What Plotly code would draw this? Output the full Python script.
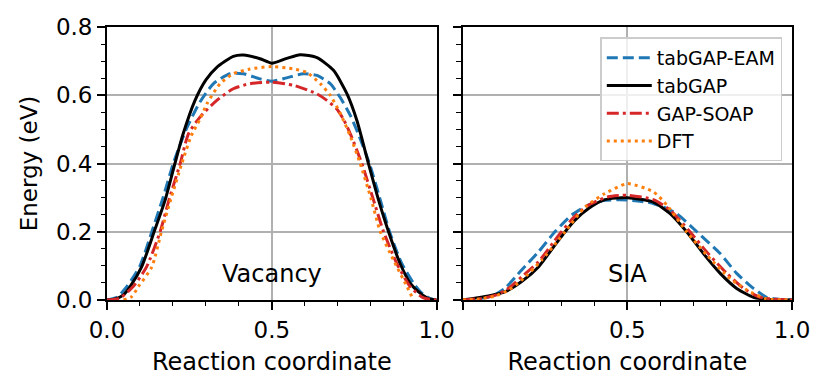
##############################################################
# NEB energy profiles: vacancy and SIA migration, 4 models  #
##############################################################

import plotly.graph_objects as go
from plotly.subplots import make_subplots

# model names and styles (legend order)
models = ['tabGAP-EAM', 'tabGAP', 'GAP-SOAP', 'DFT']
colors = ['#1f77b4', 'black', '#d62728', '#ff7f0e']
dashes = ['11px,5px', 'solid', '12px,4px,3px,4px', '3px,4px']

# vacancy migration (reaction coordinate, energy in eV)
vac_eam_x = [0, 0.03, 0.06, 0.10, 0.136, 0.17, 0.201, 0.24, 0.282, 0.323, 0.373, 0.414,
             0.464, 0.5, 0.545, 0.596, 0.637, 0.677, 0.707, 0.738, 0.765, 0.796, 0.827,
             0.857, 0.894, 0.93, 0.955, 0.98, 1.0]
vac_eam_y = [0, 0.008, 0.039, 0.10, 0.2, 0.3, 0.4, 0.5, 0.58, 0.634, 0.663, 0.663,
             0.648, 0.641, 0.651, 0.663, 0.658, 0.634, 0.594, 0.541, 0.48, 0.4, 0.3,
             0.2, 0.107, 0.049, 0.02, 0.004, 0]

vac_tab_x = [0, 0.025, 0.05, 0.07, 0.105, 0.143, 0.176, 0.206, 0.231, 0.267, 0.30, 0.333,
             0.383, 0.414, 0.464, 0.5, 0.545, 0.586, 0.637, 0.687, 0.728, 0.758, 0.793,
             0.824, 0.854, 0.889, 0.92, 0.95, 0.975, 1.0]
vac_tab_y = [0, 0.003, 0.015, 0.039, 0.097, 0.2, 0.292, 0.4, 0.487, 0.585, 0.645, 0.682,
             0.714, 0.718, 0.707, 0.694, 0.708, 0.719, 0.710, 0.673, 0.604, 0.526, 0.4,
             0.292, 0.2, 0.107, 0.049, 0.02, 0.004, 0]

vac_soap_x = [0, 0.04, 0.08, 0.12, 0.161, 0.19, 0.222, 0.247, 0.282, 0.333, 0.383, 0.434,
              0.5, 0.566, 0.637, 0.667, 0.697, 0.717, 0.738, 0.773, 0.806, 0.839, 0.879,
              0.92, 0.96, 1.0]
vac_soap_y = [0, 0.006, 0.04, 0.097, 0.2, 0.3, 0.4, 0.487, 0.536, 0.585, 0.619, 0.634,
              0.638, 0.629, 0.604, 0.585, 0.56, 0.53, 0.487, 0.4, 0.3, 0.2, 0.107,
              0.039, 0.006, 0]

vac_dft_x = [0.05, 0.075, 0.095, 0.136, 0.165, 0.195, 0.227, 0.255, 0.282, 0.303, 0.343,
             0.383, 0.434, 0.5, 0.566, 0.606, 0.647, 0.677, 0.707, 0.738, 0.768, 0.80,
             0.829, 0.869, 0.91, 0.93]
vac_dft_y = [0, 0.01, 0.039, 0.097, 0.2, 0.3, 0.4, 0.48, 0.53, 0.575, 0.634, 0.663,
             0.677, 0.684, 0.677, 0.667, 0.634, 0.6, 0.548, 0.48, 0.4, 0.3, 0.2,
             0.117, 0.039, 0]

# self-interstitial atom migration
sia_eam_x = [0, 0.05, 0.09, 0.128, 0.179, 0.23, 0.28, 0.331, 0.382, 0.432, 0.5, 0.57,
             0.61, 0.65, 0.711, 0.782, 0.832, 0.883, 0.923, 0.96, 1.0]
sia_eam_y = [0, 0.004, 0.012, 0.034, 0.088, 0.141, 0.2, 0.249, 0.278, 0.292, 0.293, 0.285,
             0.272, 0.253, 0.2, 0.136, 0.078, 0.034, 0.008, 0.002, 0]

sia_tab_x = [0, 0.078, 0.128, 0.179, 0.23, 0.28, 0.311, 0.341, 0.382, 0.432, 0.5, 0.579,
             0.63, 0.68, 0.731, 0.782, 0.832, 0.883, 0.94, 1.0]
sia_tab_y = [0, 0.012, 0.024, 0.054, 0.097, 0.161, 0.2, 0.234, 0.268, 0.294, 0.300, 0.287,
             0.253, 0.2, 0.136, 0.078, 0.034, 0.008, 0.001, 0]

sia_soap_x = [0, 0.06, 0.10, 0.14, 0.179, 0.23, 0.28, 0.30, 0.34, 0.382, 0.44, 0.5, 0.579,
              0.63, 0.69, 0.741, 0.802, 0.853, 0.903, 0.95, 1.0]
sia_soap_y = [0, 0.005, 0.014, 0.035, 0.068, 0.112, 0.175, 0.2, 0.245, 0.278, 0.302, 0.307,
              0.294, 0.263, 0.2, 0.141, 0.078, 0.034, 0.008, 0.002, 0]

sia_dft_x = [0, 0.05, 0.10, 0.14, 0.179, 0.24, 0.29, 0.311, 0.372, 0.432, 0.5, 0.579, 0.62,
             0.68, 0.741, 0.812, 0.863, 0.923, 0.96, 1.0]
sia_dft_y = [0, 0.003, 0.012, 0.03, 0.058, 0.117, 0.175, 0.2, 0.273, 0.312, 0.341, 0.317,
             0.278, 0.2, 0.132, 0.063, 0.029, 0.003, 0.001, 0]

x_ticks = [0, 0.5, 1.0]
y_ticks = [0, 0.2, 0.4, 0.6, 0.8]

vacancy = [(vac_eam_x, vac_eam_y), (vac_tab_x, vac_tab_y),
           (vac_soap_x, vac_soap_y), (vac_dft_x, vac_dft_y)]
sia = [(sia_eam_x, sia_eam_y), (sia_tab_x, sia_tab_y),
       (sia_soap_x, sia_soap_y), (sia_dft_x, sia_dft_y)]

font = 'DejaVu Sans, Arial, sans-serif'

# page body has an 8px margin, so the figure is 8px smaller and everything is shifted by 8px
W, H = 822, 384
ml, mr, mt, mb = 99.3, 38.3, 18.5, 92
pw, ph = W - ml - mr, H - mt - mb

fig = make_subplots(rows=1, cols=2, shared_yaxes=True)

for i, name in enumerate(models):
    for col, data in [(1, vacancy), (2, sia)]:
        fig.add_trace(go.Scatter(x=data[i][0], y=data[i][1], mode='lines', name=name,
                                 line=dict(color=colors[i], width=3, dash=dashes[i],
                                           shape='spline', smoothing=0.6),
                                 showlegend=(col == 2)),
                      row=1, col=col)

axis_style = dict(showline=True, linecolor='black', linewidth=1.8, mirror=True,
                  ticks='outside', ticklen=8, tickwidth=1.8, tickcolor='black',
                  showgrid=True, gridcolor='#b0b0b0', gridwidth=1.5, zeroline=False,
                  automargin=False, tickfont=dict(size=23, color='black'))

fig.update_xaxes(range=[0, 1], tickvals=x_ticks, **axis_style,
                 minor=dict(dtick=0.1, ticklen=4.5, tickwidth=1.4, tickcolor='black',
                            ticks='outside', showgrid=False),
                 title=dict(text='Reaction coordinate', font=dict(size=24, color='black'),
                            standoff=12))
fig.update_xaxes(ticktext=['0.0', '0.5', '1.0'], domain=[0, 329.4 / pw], row=1, col=1)
fig.update_xaxes(ticktext=['', '0.5', '1.0'], domain=[1 - 329.0 / pw, 1], row=1, col=2)

fig.update_yaxes(range=[0, 0.8], tickvals=y_ticks, ticktext=['0.0', '0.2', '0.4', '0.6', '0.8'],
                 **axis_style,
                 minor=dict(dtick=0.05, ticklen=4.5, tickwidth=1.4, tickcolor='black',
                            ticks='outside', showgrid=False))
fig.update_yaxes(title=dict(text='Energy (eV)', font=dict(size=23, color='black'), standoff=12),
                 row=1, col=1)
fig.update_yaxes(showticklabels=False, row=1, col=2)

fig.add_annotation(x=0.5, y=0.075, xref='x', yref='y', text='Vacancy', showarrow=False,
                   font=dict(size=24, color='black'), yanchor='middle')
fig.add_annotation(x=0.5, y=0.075, xref='x2', yref='y2', text='SIA', showarrow=False,
                   font=dict(size=24, color='black'), yanchor='middle')

fig.update_layout(width=W, height=H, margin=dict(l=ml, r=mr, t=mt, b=mb),
                  plot_bgcolor='white', paper_bgcolor='white',
                  font=dict(family=font, size=23, color='black'),
                  legend=dict(x=(774 - ml) / pw, y=(H - mb - 29) / ph,
                              xanchor='right', yanchor='top',
                              bgcolor='rgba(255,255,255,0.8)', bordercolor='#cccccc',
                              borderwidth=1.5, font=dict(size=19), itemwidth=45,
                              tracegroupgap=0))

fig.write_html("out.html")
